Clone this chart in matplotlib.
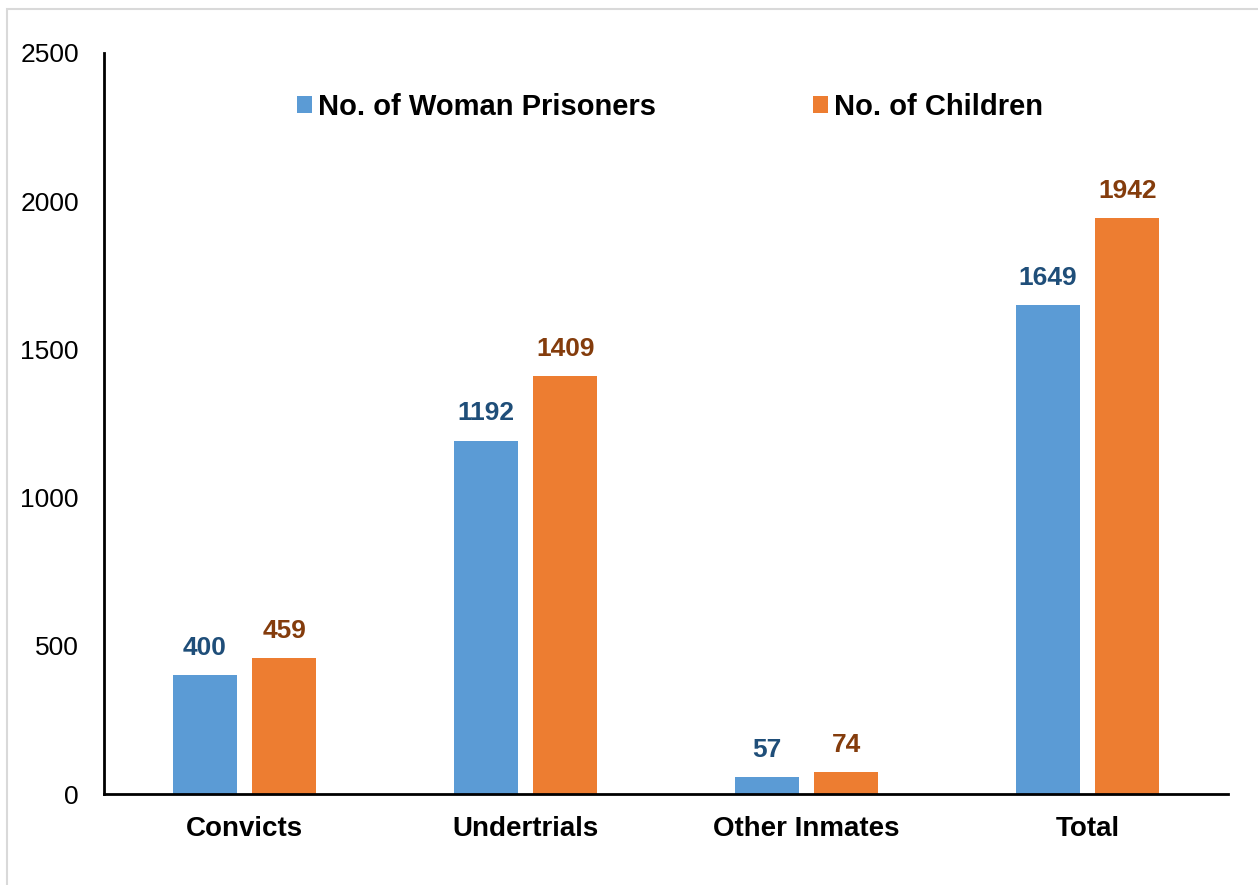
import matplotlib

matplotlib.use("Agg")
import matplotlib.pyplot as plt
import numpy as np
from matplotlib.patches import Rectangle

plt.rcParams["font.family"] = ["Liberation Sans", "DejaVu Sans"]

categories = ["Convicts", "Undertrials", "Other Inmates", "Total"]
women = [400, 1192, 57, 1649]
children = [459, 1409, 74, 1942]
series_names = ["No. of Woman Prisoners", "No. of Children"]
yticks = [0, 500, 1000, 1500, 2000, 2500]

BLUE = "#5B9BD5"
ORANGE = "#ED7D31"
BLUE_TXT = "#1F4E79"
ORANGE_TXT = "#843C0C"

fig = plt.figure(figsize=(12.58, 8.85), dpi=100)
ax = fig.add_axes([104 / 1258, 1 - 794 / 885, (1228 - 104) / 1258, (794 - 53) / 885])

# light grey frame around the chart area
fig.patches.append(Rectangle((7 / 1258, -0.1), 1.2, 1 - 9 / 885 + 0.1,
                             transform=fig.transFigure, fill=False,
                             edgecolor="#D9D9D9", linewidth=1.5))

x = np.arange(len(categories))
w = 0.228
off = 0.142
b1 = ax.bar(x - off, women, w, color=BLUE, label=series_names[0])
b2 = ax.bar(x + off, children, w, color=ORANGE, label=series_names[1])

for rects, vals, col in [(b1, women, BLUE_TXT), (b2, children, ORANGE_TXT)]:
    for r, v in zip(rects, vals):
        ax.annotate(f"{v}", (r.get_x() + r.get_width() / 2, v),
                    xytext=(0, 11), textcoords="offset points",
                    ha="center", va="bottom", fontsize=19,
                    fontweight="bold", color=col)

ax.set_xlim(-0.5, 3.5)
ax.set_ylim(0, 2500)
ax.set_yticks(yticks)
ax.set_yticklabels([str(t) for t in yticks], fontsize=19)
ax.set_xticks(x)
ax.set_xticklabels(categories, fontsize=20, fontweight="bold")
ax.tick_params(axis="both", length=0)
ax.tick_params(axis="y", pad=18)
ax.tick_params(axis="x", pad=16)
for s in ["top", "right"]:
    ax.spines[s].set_visible(False)
for s in ["left", "bottom"]:
    ax.spines[s].set_linewidth(2)
    ax.spines[s].set_color("black")

leg = ax.legend(loc="center", bbox_to_anchor=(670 / 1258, 1 - 107 / 885),
                bbox_transform=fig.transFigure, ncol=2, frameon=False,
                prop={"size": 21, "weight": "bold"},
                handlelength=0.51, handleheight=0.51, handletextpad=0.2,
                columnspacing=5.4, borderpad=0)

fig.savefig("out.png", dpi=100)
